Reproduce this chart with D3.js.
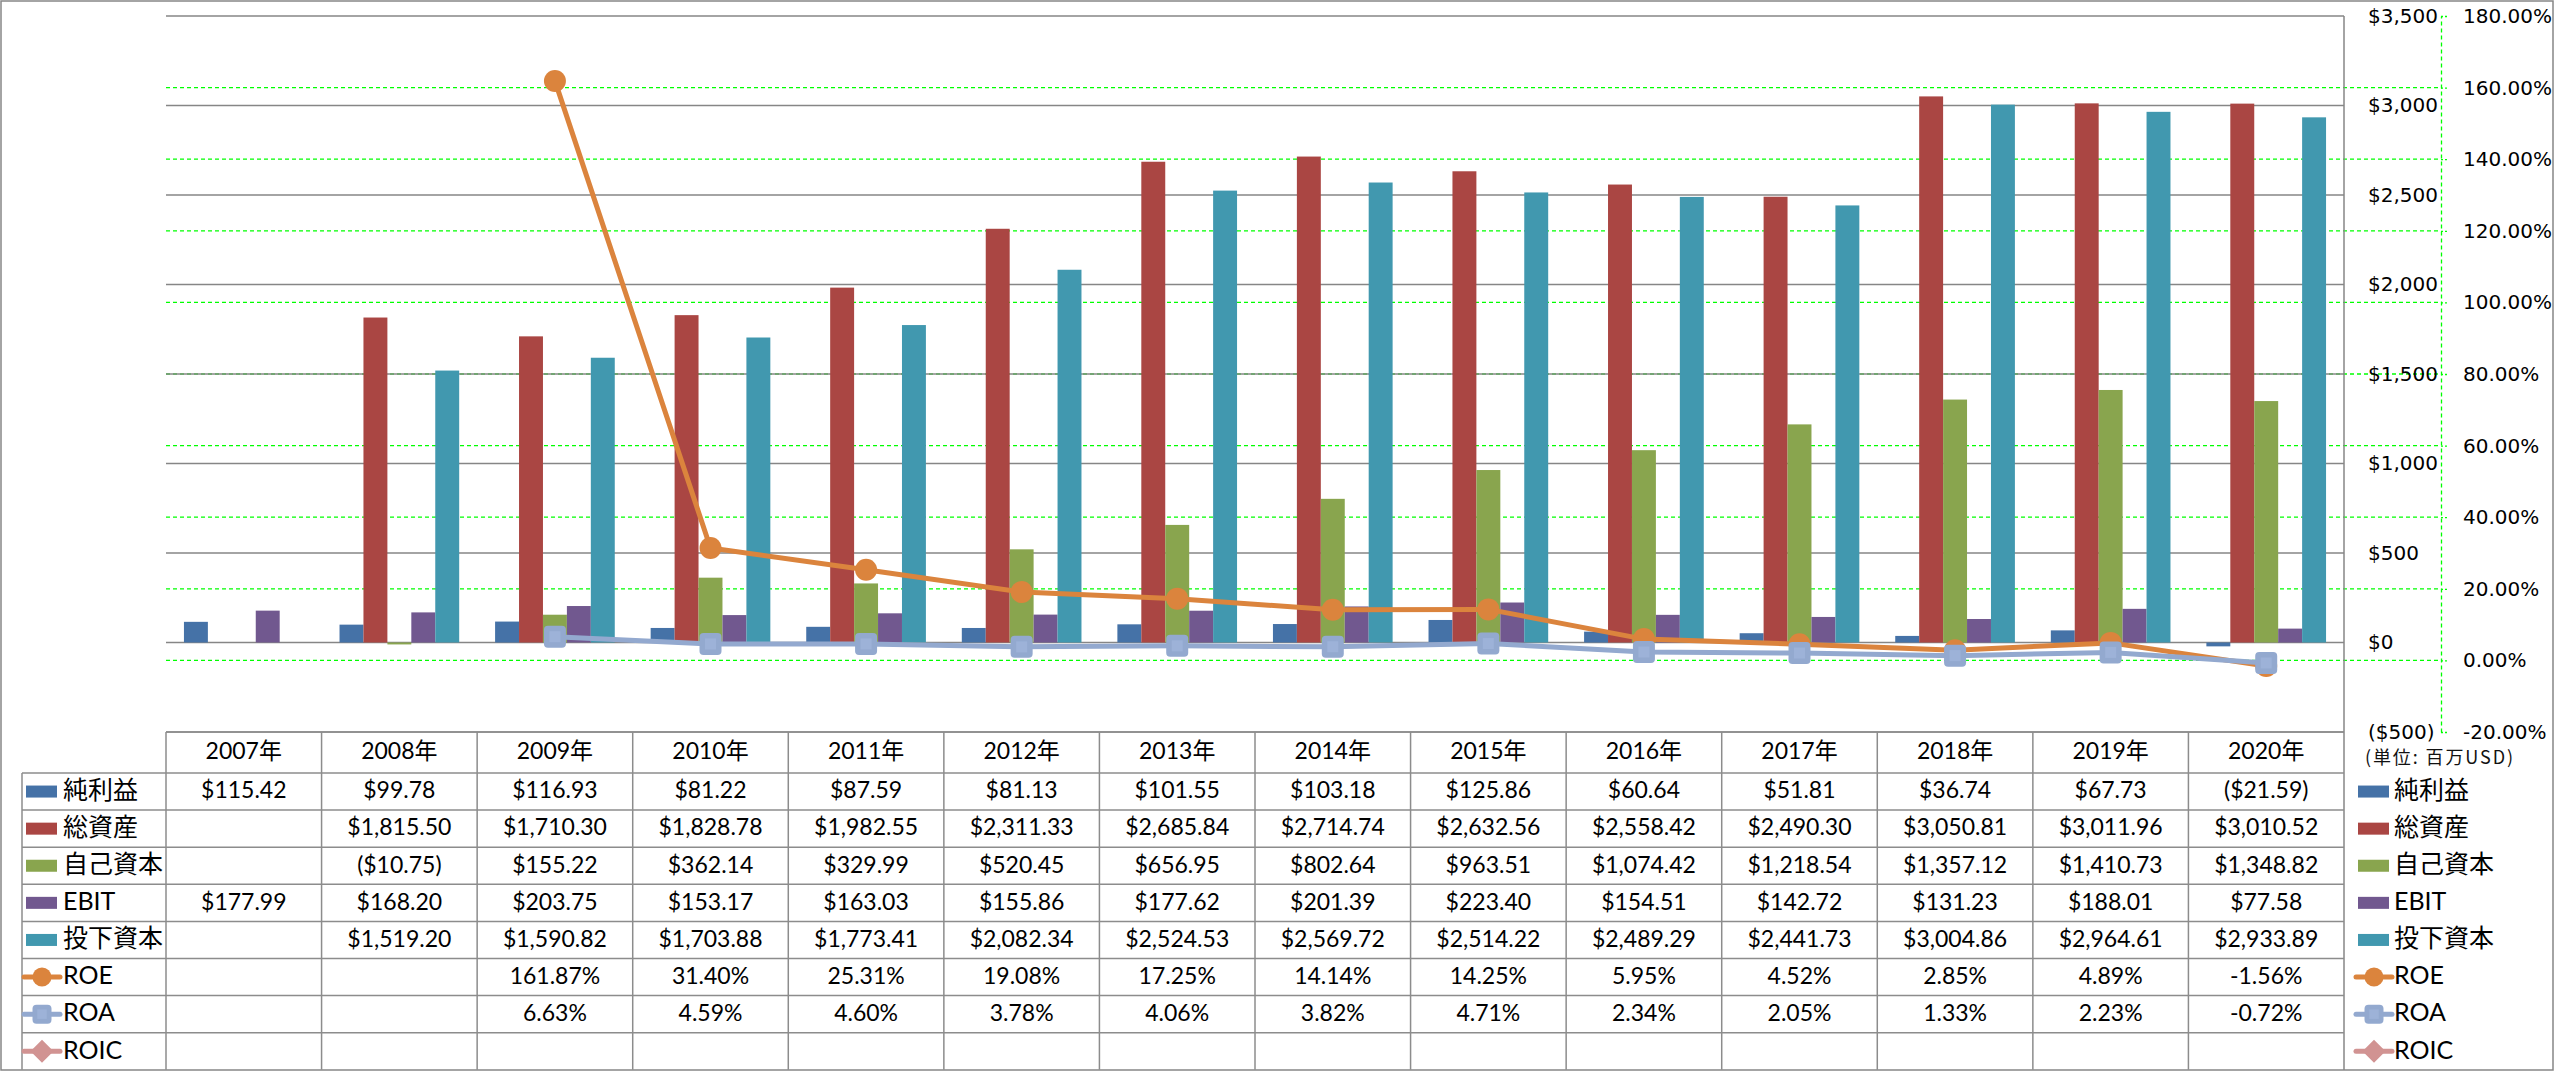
<!DOCTYPE html>
<html>
<head>
<meta charset="utf-8">
<script src="https://cdn.jsdelivr.net/npm/d3@7"></script>
<style>
  html, body { margin: 0; padding: 0; background: #fff; }
  svg { display: block; }
  .tbl { font-family: Lato, "Noto Sans CJK JP", sans-serif; font-size: 23px; fill: #000; }
  .leg { font-family: Lato, "Noto Sans CJK JP", sans-serif; font-size: 25px; fill: #000; }
  .ax text { font-family: "DejaVu Sans", Verdana, sans-serif; font-size: 20px; fill: #000; }
</style>
</head>
<body>
<svg id="chart" width="2554" height="1071"></svg>
<script>
// ---------------- DATA ----------------
const years = ["2007年","2008年","2009年","2010年","2011年","2012年","2013年","2014年","2015年","2016年","2017年","2018年","2019年","2020年"];
const netIncome   = [115.42, 99.78, 116.93, 81.22, 87.59, 81.13, 101.55, 103.18, 125.86, 60.64, 51.81, 36.74, 67.73, -21.59];
const totalAssets = [null, 1815.50, 1710.30, 1828.78, 1982.55, 2311.33, 2685.84, 2714.74, 2632.56, 2558.42, 2490.30, 3050.81, 3011.96, 3010.52];
const equity      = [null, -10.75, 155.22, 362.14, 329.99, 520.45, 656.95, 802.64, 963.51, 1074.42, 1218.54, 1357.12, 1410.73, 1348.82];
const ebit        = [177.99, 168.20, 203.75, 153.17, 163.03, 155.86, 177.62, 201.39, 223.40, 154.51, 142.72, 131.23, 188.01, 77.58];
const investedCap = [null, 1519.20, 1590.82, 1703.88, 1773.41, 2082.34, 2524.53, 2569.72, 2514.22, 2489.29, 2441.73, 3004.86, 2964.61, 2933.89];
const roe  = [null, null, 161.87, 31.40, 25.31, 19.08, 17.25, 14.14, 14.25, 5.95, 4.52, 2.85, 4.89, -1.56];
const roa  = [null, null, 6.63, 4.59, 4.60, 3.78, 4.06, 3.82, 4.71, 2.34, 2.05, 1.33, 2.23, -0.72];
const roic = [null, null, null, null, null, null, null, null, null, null, null, null, null, null];
const leftTicks  = [-500, 0, 500, 1000, 1500, 2000, 2500, 3000, 3500];
const rightTicks = [-20, 0, 20, 40, 60, 80, 100, 120, 140, 160, 180];
const unitLabel = "(単位: 百万USD)";

const barSeries = [
  {name: "純利益", values: netIncome,   color: "#4572A7"},
  {name: "総資産", values: totalAssets, color: "#AA4643"},
  {name: "自己資本", values: equity,    color: "#89A54E"},
  {name: "EBIT",   values: ebit,        color: "#71588F"},
  {name: "投下資本", values: investedCap, color: "#4198AF"}
];
const lineSeries = [
  {name: "ROE",  values: roe,  color: "#DB843D", marker: "circle"},
  {name: "ROA",  values: roa,  color: "#93A9CF", marker: "square"},
  {name: "ROIC", values: roic, color: "#D19392", marker: "diamond"}
];

// ---------------- LAYOUT ----------------
const W = 2554, H = 1071;
const plotL = 166, plotR = 2344, plotT = 16, plotB = 732;
const rightAxisX = 2441;
const tblTop = 732, hdrH = 41, rowH = 37.1;
const legL = 22;

const loc = d3.formatLocale({decimal: ".", thousands: ",", grouping: [3], currency: ["$", ""], minus: "-"});
const fmtMoney = v => v == null ? "" : (v < 0 ? "(" + loc.format("$,.2f")(-v) + ")" : loc.format("$,.2f")(v));
const fmtPct = v => v == null ? "" : loc.format(".2f")(v) + "%";
const fmtAxisMoney = v => v < 0 ? "(" + loc.format("$,")(-v) + ")" : loc.format("$,")(v);

const svg = d3.select("#chart");

const x0 = d3.scaleBand().domain(years).range([plotL, plotR]).paddingInner(0).paddingOuter(0);
const x1 = d3.scaleBand().domain(barSeries.map(s => s.name)).range([0, x0.bandwidth()]).paddingInner(0).paddingOuter(0.75);
const yL = d3.scaleLinear().domain([-500, 3500]).range([plotB, plotT]);
const yR = d3.scaleLinear().domain([-20, 180]).range([plotB, plotT]);

// outer frame
svg.append("rect").attr("x", 1).attr("y", 1).attr("width", W - 2).attr("height", H - 2)
  .attr("fill", "#fff").attr("stroke", "#868686").attr("stroke-width", 1.5);

// green dashed gridlines (secondary axis)
svg.append("g").selectAll("line").data(rightTicks.filter(d => d !== -20 && d !== 180)).join("line")
  .attr("x1", plotL).attr("x2", rightAxisX)
  .attr("y1", d => yR(d)).attr("y2", d => yR(d))
  .attr("stroke", "#00ff00").attr("stroke-width", 1.3).attr("stroke-dasharray", "4,3");

// gray gridlines (primary axis)
svg.append("g").selectAll("line").data(leftTicks).join("line")
  .attr("x1", plotL).attr("x2", plotR)
  .attr("y1", d => yL(d)).attr("y2", d => yL(d))
  .attr("stroke", "#868686").attr("stroke-width", 1.5);

// bars
const barData = [];
years.forEach((yr, i) => barSeries.forEach(s => { if (s.values[i] != null) barData.push({yr, s, v: s.values[i]}); }));
svg.append("g").selectAll("rect").data(barData).join("rect")
  .attr("x", d => x0(d.yr) + x1(d.s.name))
  .attr("width", x1.bandwidth())
  .attr("y", d => Math.min(yL(d.v), yL(0)))
  .attr("height", d => Math.abs(yL(d.v) - yL(0)))
  .attr("fill", d => d.s.color);

// primary axis line (right side of plot, continues through table)
svg.append("line").attr("x1", plotR).attr("x2", plotR).attr("y1", plotT).attr("y2", H - 1)
  .attr("stroke", "#868686").attr("stroke-width", 1.5);

// lines
const cx = yr => x0(yr) + x0.bandwidth() / 2;
function drawMarker(g, type, x, y, color, size) {
  if (type === "circle") {
    g.append("circle").attr("cx", x).attr("cy", y).attr("r", size / 2).attr("fill", color);
  } else if (type === "square") {
    g.append("rect").attr("x", x - size / 2).attr("y", y - size / 2).attr("width", size).attr("height", size)
      .attr("rx", 4).attr("fill", color);
    g.append("rect").attr("x", x - size / 4).attr("y", y - size / 4).attr("width", size / 2).attr("height", size / 2)
      .attr("fill", "#9DB2D8");
  } else {
    const r = size / 2 + 2;
    g.append("path").attr("d", `M${x},${y - r}L${x + r},${y}L${x},${y + r}L${x - r},${y}Z`).attr("fill", color);
  }
}
lineSeries.forEach(s => {
  const g = svg.append("g");
  const pts = years.map((yr, i) => ({yr, v: s.values[i]}));
  const line = d3.line().defined(d => d.v != null).x(d => cx(d.yr)).y(d => yR(d.v));
  g.append("path").datum(pts).attr("d", line).attr("fill", "none")
    .attr("stroke", s.color).attr("stroke-width", 5).attr("stroke-linejoin", "round");
  pts.filter(d => d.v != null).forEach(d => drawMarker(g, s.marker, cx(d.yr), yR(d.v), s.color, 22));
});

// primary axis labels (left-aligned, on the right side)
const axL = svg.append("g").attr("class", "ax").attr("transform", `translate(${plotR},0)`)
  .call(d3.axisRight(yL).tickValues(leftTicks).tickFormat(fmtAxisMoney).tickSize(0).tickPadding(24));
axL.select(".domain").remove();
axL.selectAll("text").attr("fill", d => d < 0 ? "#ff0000" : "#000");

// secondary axis
const axR = svg.append("g").attr("class", "ax").attr("transform", `translate(${rightAxisX},0)`)
  .call(d3.axisRight(yR).tickValues(rightTicks).tickFormat(d => fmtPct(d)).tickSizeInner(7).tickSizeOuter(0).tickPadding(15));
axR.select(".domain").attr("stroke", "#00ff00").attr("stroke-width", 1.3).attr("stroke-dasharray", "4,3");
axR.selectAll(".tick line").attr("stroke", "#00ff00").attr("stroke-width", 1.3).attr("stroke-dasharray", "2,2");
axR.selectAll("text").attr("fill", d => d < 0 ? "#ff0000" : "#000");

// ---------------- DATA TABLE ----------------
const tbl = svg.append("g");
const gridColor = "#8c8c8c";
const nRows = 8;
const tblBottom = tblTop + hdrH + nRows * rowH;
tbl.append("line").attr("x1", plotL).attr("x2", plotR).attr("y1", tblTop).attr("y2", tblTop)
  .attr("stroke", gridColor).attr("stroke-width", 1.5);
for (let r = 0; r < nRows; r++) {
  const y = tblTop + hdrH + r * rowH;
  tbl.append("line").attr("x1", legL).attr("x2", plotR).attr("y1", y).attr("y2", y)
    .attr("stroke", gridColor).attr("stroke-width", 1.5);
}
years.forEach(yr => {
  tbl.append("line").attr("x1", x0(yr)).attr("x2", x0(yr)).attr("y1", tblTop).attr("y2", tblBottom)
    .attr("stroke", gridColor).attr("stroke-width", 1.5);
});
tbl.append("line").attr("x1", legL).attr("x2", legL).attr("y1", tblTop + hdrH).attr("y2", tblBottom)
  .attr("stroke", gridColor).attr("stroke-width", 1.5);

tbl.selectAll("text.hdr").data(years).join("text").attr("class", "tbl hdr")
  .attr("x", d => cx(d)).attr("y", tblTop + hdrH / 2 + 1)
  .attr("text-anchor", "middle").attr("dominant-baseline", "middle").text(d => d);

const allSeries = barSeries.map(s => ({...s, kind: "bar", fmt: fmtMoney}))
  .concat(lineSeries.map(s => ({...s, kind: "line", fmt: fmtPct})));

function legendKey(g, s, xKey, yc) {
  if (s.kind === "bar") {
    g.append("rect").attr("x", xKey).attr("y", yc - 6).attr("width", 31).attr("height", 12).attr("fill", s.color);
  } else {
    g.append("line").attr("x1", xKey - 2).attr("x2", xKey + 34).attr("y1", yc).attr("y2", yc)
      .attr("stroke", s.color).attr("stroke-width", 5).attr("stroke-linecap", "round");
    drawMarker(g, s.marker, xKey + 16, yc, s.color, 19);
  }
}

allSeries.forEach((s, r) => {
  const yc = tblTop + hdrH + r * rowH + rowH / 2;
  legendKey(tbl, s, 26, yc);
  tbl.append("text").attr("class", "leg").attr("x", 63).attr("y", yc + 1)
    .attr("dominant-baseline", "middle").text(s.name);
  legendKey(tbl, s, 2358, yc);
  tbl.append("text").attr("class", "leg").attr("x", 2394).attr("y", yc + 1)
    .attr("dominant-baseline", "middle").text(s.name);
  years.forEach((yr, i) => {
    const v = s.values[i];
    if (v == null) return;
    tbl.append("text").attr("class", "tbl").attr("x", cx(yr)).attr("y", yc + 1)
      .attr("text-anchor", "middle").attr("dominant-baseline", "middle").text(s.fmt(v));
  });
});

// unit label
svg.append("text").attr("x", 2365).attr("y", 759)
  .attr("font-family", "'Noto Sans CJK JP', sans-serif").attr("font-size", 18).attr("fill", "#111")
  .attr("textLength", 148).attr("lengthAdjust", "spacing")
  .attr("dominant-baseline", "middle").text(unitLabel);
</script>
</body>
</html>
